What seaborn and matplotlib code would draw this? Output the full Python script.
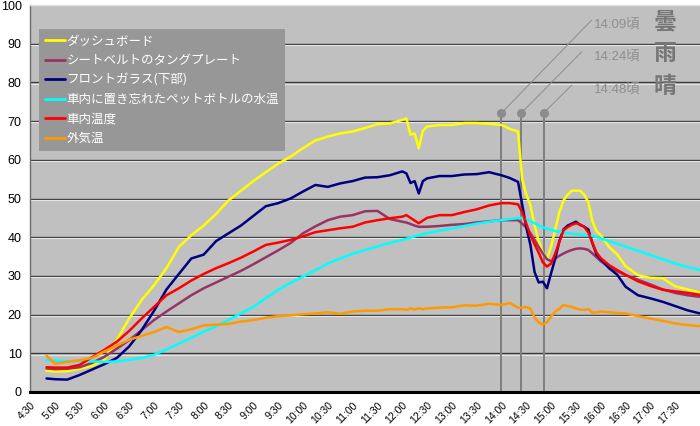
import matplotlib
matplotlib.use("Agg")
import matplotlib.pyplot as plt
import matplotlib.transforms as mtransforms
from matplotlib.ticker import MultipleLocator
import seaborn as sns
import pandas as pd

# ---------------- data ----------------
times = ["4:50", "5:00", "5:15", "5:30", "5:45", "6:00", "6:15", "6:30", "6:45", "7:00",
         "7:15", "7:30", "7:45", "8:00", "8:15", "8:30", "8:45",
         "9:00", "9:15", "9:30", "9:45", "10:00", "10:15", "10:30", "10:45", "11:00", "11:15", "11:30", "11:45",
         "12:00", "12:05", "12:10", "12:15", "12:20", "12:25", "12:30", "12:45", "13:00", "13:15", "13:30", "13:45",
         "14:00", "14:10", "14:20", "14:25", "14:30", "14:35", "14:40", "14:45", "14:50", "14:55",
         "15:00", "15:05", "15:10", "15:15", "15:20", "15:25", "15:30", "15:35", "15:40", "15:45", "15:50", "15:55",
         "16:00", "16:10", "16:20", "16:30", "16:45", "17:00", "17:15", "17:30", "17:45", "18:00"]

dashboard = [5.5, 5.3, 5.4, 6.0, 6.8, 8.3, 13.5, 19.0, 23.8, 27.6, 32.0, 37.5, 40.5, 43.0, 46.0, 49.5, 52.0,
             54.5, 56.8, 59.0, 60.8, 63.0, 65.0, 66.0, 66.8, 67.3, 68.2, 69.2, 69.4,
             70.3, 70.7, 66.5, 66.8, 63.0, 67.5, 68.6, 69.0, 69.0, 69.5, 69.5, 69.3,
             69.0, 68.0, 67.3, 55.0, 51.0, 48.3, 43.0, 39.0, 36.0, 34.3,
             37.6, 42.0, 46.5, 49.5, 51.0, 52.0, 52.0, 52.0, 51.0, 49.0, 44.0, 41.5,
             40.5, 37.5, 35.5, 32.5, 30.2, 29.5, 29.4, 27.3, 26.5, 25.7]

seatbelt = [6.1, 5.9, 6.0, 6.4, 7.5, 9.1, 11.2, 13.4, 16.0, 18.6, 20.8, 22.9, 25.0, 26.8, 28.3, 29.8, 31.3,
            33.0, 34.8, 36.6, 38.5, 41.0, 42.8, 44.4, 45.3, 45.7, 46.7, 46.8, 44.7,
            44.0, 43.8, 43.4, 43.0, 42.7, 42.7, 42.7, 42.9, 43.2, 43.4, 43.8, 44.1,
            44.4, 44.4, 44.4, 43.5, 42.5, 41.0, 39.3, 37.5, 35.8, 34.3,
            33.8, 34.5, 35.2, 35.8, 36.3, 36.7, 37.0, 37.1, 37.0, 36.7, 35.8, 34.8,
            33.8, 32.3, 31.2, 30.2, 29.0, 27.8, 26.5, 25.6, 25.0, 24.6]

windshield = [3.5, 3.3, 3.2, 4.4, 5.8, 7.2, 8.8, 11.8, 16.0, 21.0, 26.5, 30.5, 34.5, 35.5, 39.0, 41.0, 43.0,
              45.5, 48.0, 48.8, 50.0, 51.8, 53.5, 53.0, 53.9, 54.5, 55.4, 55.5, 56.0,
              57.0, 56.5, 54.0, 54.5, 51.3, 54.5, 55.2, 55.8, 55.8, 56.2, 56.3, 56.8,
              56.0, 55.3, 54.3, 48.5, 42.5, 38.0, 31.0, 28.3, 28.5, 26.8,
              30.7, 34.5, 39.0, 42.0, 43.0, 43.5, 44.0, 43.2, 42.7, 42.0, 38.4, 35.5,
              34.3, 32.0, 30.3, 27.2, 25.0, 24.2, 23.3, 22.2, 21.1, 20.3]

bottle = [8.3, 8.1, 8.0, 8.0, 7.9, 7.8, 7.9, 8.3, 8.8, 9.6, 11.0, 12.5, 14.0, 15.6, 17.0, 18.6, 20.3,
          22.0, 24.2, 26.4, 28.2, 29.8, 31.5, 33.2, 34.5, 35.7, 36.7, 37.6, 38.5,
          39.3, 39.6, 39.9, 40.2, 40.5, 40.8, 41.0, 41.7, 42.3, 42.9, 43.5, 44.0,
          44.4, 44.7, 44.9, 45.0, 44.6, 44.1, 43.6, 43.1, 42.6, 42.2,
          41.9, 41.6, 41.4, 41.2, 41.0, 40.9, 40.8, 40.7, 40.6, 40.5, 40.3, 40.0,
          39.7, 39.0, 38.3, 37.6, 36.5, 35.4, 34.3, 33.2, 32.3, 31.5]

cabin = [6.4, 6.3, 6.3, 7.0, 9.0, 10.9, 13.0, 15.8, 19.0, 22.0, 25.0, 26.8, 28.8, 30.5, 32.0, 33.3, 34.7,
         36.3, 38.0, 38.6, 39.3, 40.2, 41.3, 41.8, 42.3, 42.7, 43.8, 44.4, 44.9,
         45.3, 45.7, 45.0, 44.3, 43.6, 44.3, 45.0, 45.7, 45.7, 46.5, 47.2, 48.2,
         48.8, 48.8, 48.5, 46.5, 43.5, 40.5, 38.2, 36.0, 33.5, 32.4,
         33.2, 35.8, 38.8, 41.8, 42.6, 43.2, 43.6, 43.3, 42.7, 41.2, 38.5, 36.0,
         34.6, 32.8, 31.5, 30.3, 28.6, 27.4, 26.4, 26.0, 25.6, 25.1]

outside = [9.4, 7.3, 7.8, 8.2, 8.8, 10.5, 12.0, 13.5, 14.5, 15.5, 16.8, 15.5, 16.2, 17.2, 17.4, 17.6, 18.2,
           18.6, 19.2, 19.6, 19.8, 20.1, 20.3, 20.6, 20.2, 20.8, 21.0, 21.0, 21.4,
           21.4, 21.2, 21.6, 21.3, 21.6, 21.4, 21.6, 21.8, 21.9, 22.4, 22.3, 22.8,
           22.5, 23.0, 21.8, 21.8, 22.0, 21.5, 19.2, 18.0, 17.4, 18.0,
           19.5, 20.8, 21.5, 22.5, 22.2, 22.0, 21.6, 21.3, 21.2, 21.4, 20.5, 20.6,
           20.8, 20.6, 20.4, 20.3, 19.6, 19.0, 18.4, 17.7, 17.3, 17.0]

series_names = ["ダッシュボード", "シートベルトのタングプレート", "フロントガラス(下部)",
                "車内に置き忘れたペットボトルの水温", "車内温度", "外気温"]
series_colors = ["#FFFF00", "#993366", "#000080", "#00FFFF", "#FF0000", "#FF9900"]

tick_labels = ["4:30", "5:00", "5:30", "6:00", "6:30", "7:00", "7:30", "8:00", "8:30", "9:00",
               "9:30", "10:00", "10:30", "11:00", "11:30", "12:00", "12:30", "13:00", "13:30",
               "14:00", "14:30", "15:00", "15:30", "16:00", "16:30", "17:00", "17:30"]

event_times = ["14:00", "14:24", "14:51"]
event_labels = ["14:09頃", "14:24頃", "14:48頃"]
weather_labels = ["曇", "雨", "晴"]


def to_h(s):
    hh, mm = s.split(":")
    return int(hh) + int(mm) / 60.0


# ---------------- frame ----------------
values = [dashboard, seatbelt, windshield, bottle, cabin, outside]
rows = []
for name, vals in zip(series_names, values):
    assert len(vals) == len(times), name
    for t, v in zip(times, vals):
        rows.append({"時刻": to_h(t), "温度": v, "系列": name})
df = pd.DataFrame(rows)

# ---------------- plot ----------------
sns.set_style("white")
plt.rcParams["font.family"] = ["Liberation Sans", "Noto Sans CJK JP", "DejaVu Sans"]

fig = plt.figure(figsize=(7.0, 4.26), dpi=100)
fig.patch.set_facecolor("white")
ax = fig.add_axes([30 / 700, 1 - 392 / 426, 670 / 700, 387 / 426])
ax.set_facecolor("#C0C0C0")

ax.set_xlim(4.5, 18.0)
ax.set_ylim(0, 100)

# grid lines (dark with light shadow below)
shadow = ax.get_yaxis_transform() + mtransforms.ScaledTranslation(0, -1.2 / 100, fig.dpi_scale_trans)
for gv in range(10, 100, 10):
    ax.axhline(gv, color="#3C3C3C", lw=1.0, zorder=1)
    ax.plot([0, 1], [gv, gv], transform=shadow, color="#E6E6E6", lw=0.8, zorder=1)

# event vertical lines
marker_level = 72.1
for et in event_times:
    x = to_h(et)
    ax.plot([x, x], [0, marker_level], color="#7F7F7F", lw=1.4, zorder=2)

sns.lineplot(data=df, x="時刻", y="温度", hue="系列", hue_order=series_names,
             palette=dict(zip(series_names, series_colors)), linewidth=1.8,
             ax=ax, legend=True, zorder=3, sort=True, estimator=None)

# event markers, leader lines and labels
label_anchor = [("15:49", 96.1), ("15:37", 87.9), ("15:25", 79.3)]
text_pos = [("15:52", 94.9), ("15:52", 86.6), ("15:52", 78.2)]
kanji_pos = [("17:18", 95.6), ("17:18", 87.4), ("17:18", 79.0)]
for et, lab, wl, (ax_t, ax_v), (tx_t, tx_v), (kx_t, kx_v) in zip(
        event_times, event_labels, weather_labels, label_anchor, text_pos, kanji_pos):
    x = to_h(et)
    ax.plot([x, to_h(ax_t)], [marker_level, ax_v], color="#8C8C8C", lw=0.7, zorder=2)
    ax.plot([x], [marker_level], marker="o", ms=5.5, color="#8C8C8C", zorder=4)
    ax.text(to_h(tx_t), tx_v, lab, color="#8E8E8E", fontsize=9.5, ha="left", va="center",
            family=["Liberation Sans", "Noto Sans CJK JP"], zorder=5)
    ax.text(to_h(kx_t), kx_v, wl, color="#767676", fontsize=16.5, ha="center", va="center",
            family=["Noto Sans CJK JP"], fontweight="bold", zorder=5)

# axes styling
ax.spines["right"].set_visible(False)
ax.spines["top"].set_color("#E0E0E0")
ax.spines["top"].set_linewidth(1.0)
ax.spines["left"].set_color("#6E6E6E")
ax.spines["left"].set_linewidth(1.0)
ax.spines["bottom"].set_color("black")
ax.spines["bottom"].set_linewidth(2.2)

ax.yaxis.set_major_locator(MultipleLocator(10))
ax.tick_params(axis="y", length=0, pad=6, labelsize=9, labelcolor="black")
ax.set_xticks([to_h(s) for s in tick_labels])
ax.set_xticklabels(tick_labels, rotation=45, ha="right", va="top", rotation_mode="anchor",
                   fontsize=7.5, color="black")
ax.xaxis.set_minor_locator(MultipleLocator(0.125))
ax.tick_params(axis="x", which="both", direction="out", length=3, width=2.0,
               color="black", pad=3)
ax.set_xlabel("")
ax.set_ylabel("")

# legend
handles, labels = ax.get_legend_handles_labels()
leg = ax.legend(handles, labels, loc="upper left",
                bbox_to_anchor=(39 / 700, 1 - 29 / 426), bbox_transform=fig.transFigure,
                frameon=True, fancybox=False, framealpha=1.0, facecolor="#979797",
                edgecolor="none", borderaxespad=0, borderpad=0.45, handlelength=1.6,
                handletextpad=0.15, labelspacing=0.52,
                prop={"family": ["Noto Sans CJK JP", "DejaVu Sans"], "size": 9})
for txt in leg.get_texts():
    txt.set_color("white")
for ln in leg.get_lines():
    ln.set_linewidth(2.0)
leg.set_zorder(6)

fig.savefig("out.png", dpi=100, facecolor="white")
